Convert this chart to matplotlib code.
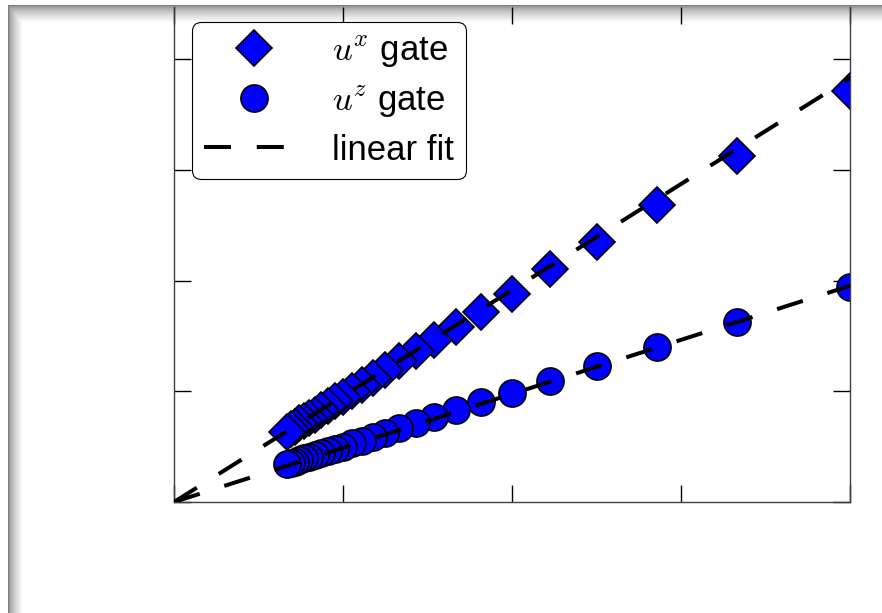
import matplotlib
matplotlib.use("Agg")
import numpy as np
import matplotlib.pyplot as plt

plt.rcParams['font.family'] = ['Liberation Sans', 'DejaVu Sans']
plt.rcParams['mathtext.fontset'] = 'cm'

# gate parameter (x) and measured values for the two gates
x_vals = [4.000, 3.333, 2.857, 2.500, 2.222, 2.000, 1.818, 1.667, 1.538, 1.429,
          1.333, 1.250, 1.176, 1.111, 1.053, 1.000, 0.952, 0.909, 0.870, 0.833,
          0.800, 0.769, 0.741, 0.714, 0.690, 0.667]
ux_vals = [3.71, 3.12, 2.68, 2.35, 2.10, 1.88, 1.72, 1.58, 1.46, 1.36,
           1.27, 1.19, 1.12, 1.06, 1.00, 0.95, 0.91, 0.87, 0.83, 0.79,
           0.76, 0.73, 0.71, 0.68, 0.66, 0.63]
uz_vals = [1.94, 1.625, 1.40, 1.23, 1.09, 0.985, 0.90, 0.83, 0.765, 0.71,
           0.665, 0.625, 0.59, 0.555, 0.53, 0.50, 0.48, 0.46, 0.44, 0.425,
           0.41, 0.395, 0.38, 0.365, 0.355, 0.343]
fit_slope_x = 0.957
fit_slope_z = 0.488
fit_range = [0.0, 4.5]

labels = [r'$u^x$ gate', r'$u^z$ gate', 'linear fit']

W, H = 882, 613
fig = plt.figure(figsize=(W / 100, H / 100), dpi=100)

# drop-shadow style frame (top and left grey bands)
yy, xx = np.mgrid[0:H, 0:W]
top = np.clip((yy - 5) / 17.0, 0, 1)
left = np.clip((xx - 8) / 14.0, 0, 1)
band_top = np.where((yy >= 5) & (xx >= 8), 0.5 + 0.5 * top ** 0.6, 1.0)
band_left = np.where((xx >= 8) & (yy >= 5), 0.5 + 0.5 * left ** 0.6, 1.0)
shade = np.minimum(band_top, band_left)
img = np.dstack([shade, shade, shade])
fig.figimage(img, xo=0, yo=0, origin='upper', zorder=-1)

ax = fig.add_axes([174 / W, 1 - 502 / H, (850 - 174) / W, (502 - 7) / H])
ax.set_facecolor('none')

lw = 2.9
dash = (6.7, 6.4)
fx = np.array(fit_range)
ax.plot(x_vals, ux_vals, 'D', ms=18.5, mfc='#0000ff', mec='black', mew=1.2,
        label=labels[0], zorder=2)
ax.plot(x_vals, uz_vals, 'o', ms=19.5, mfc='#0000ff', mec='black', mew=1.2,
        label=labels[1], zorder=2)
ax.plot(fx, fit_slope_x * fx, color='black', lw=lw, ls=(0, dash),
        label=labels[2], zorder=3)
ax.plot(fx, fit_slope_z * fx, color='black', lw=lw, ls=(0, dash), zorder=3)

ax.set_xlim(0, 4)
ax.set_ylim(0, (502 - 7) / 110.75)
ax.set_xticks([0, 1, 2, 3, 4])
ax.set_yticks([0, 1, 2, 3, 4])
ax.tick_params(direction='in', length=12, width=1.0, color='black',
               top=True, right=True, labelbottom=False, labelleft=False)
for side in ['left', 'right', 'bottom']:
    ax.spines[side].set_color('#404040')
    ax.spines[side].set_linewidth(1.0)
ax.spines['top'].set_visible(False)

leg = ax.legend(loc='upper left', bbox_to_anchor=(192 / W, 1 - 22 / H),
                bbox_transform=fig.transFigure, borderaxespad=0,
                fontsize=25, numpoints=1, handlelength=2.88,
                handletextpad=0.8, labelspacing=0.4, borderpad=0.35,
                fancybox=True, framealpha=1, edgecolor='black')
leg.get_frame().set_linewidth(0.8)
leg.get_frame().set_boxstyle('round', pad=0, rounding_size=0.25)

fig.savefig('out.png', dpi=100)
